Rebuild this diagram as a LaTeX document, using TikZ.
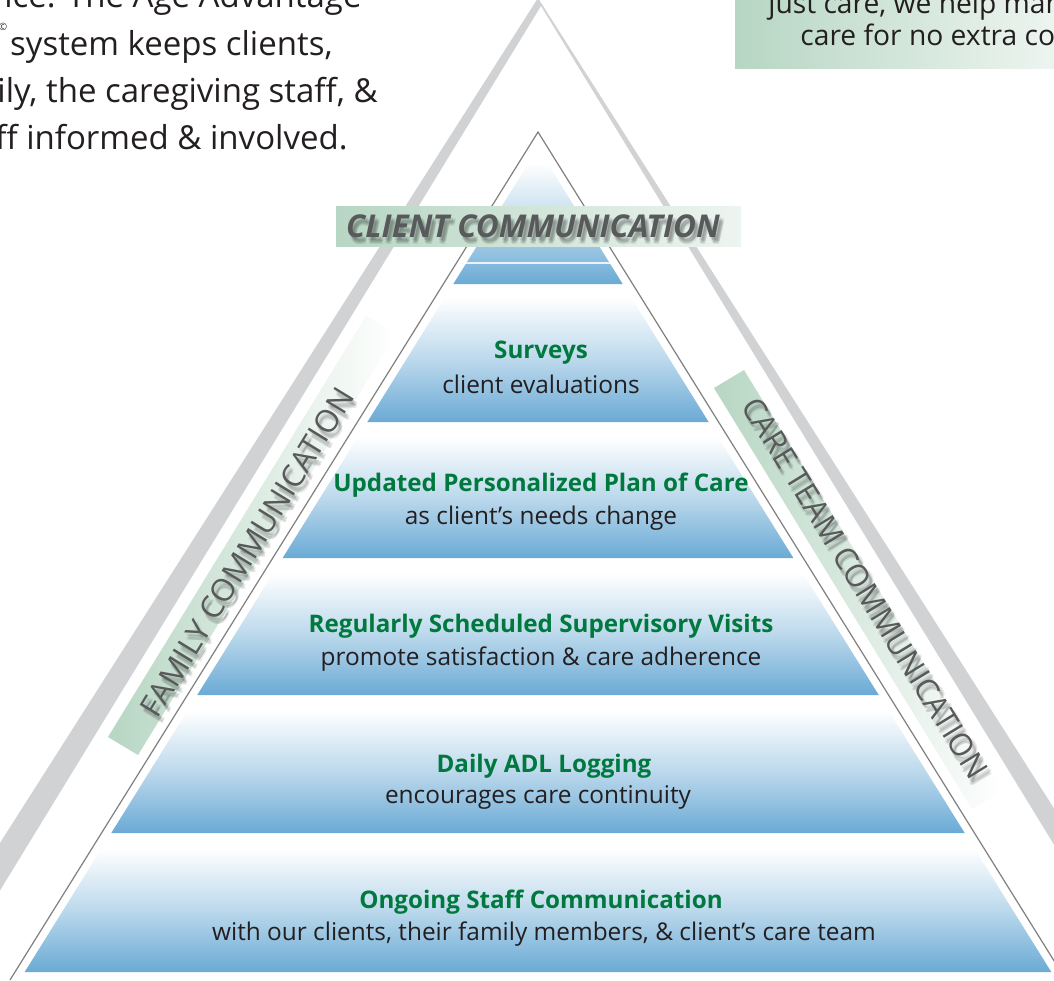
\documentclass[tikz,border=0pt]{standalone}
\usepackage{fontspec}
\setmainfont{Open Sans}
\usetikzlibrary{calc}
\definecolor{pyrblue}{RGB}{106,170,213}
\definecolor{bandgreen}{RGB}{183,214,195}
\definecolor{titlegreen}{RGB}{0,120,62}
\definecolor{labelgray}{RGB}{88,89,91}
\definecolor{inkblack}{RGB}{35,31,32}
\definecolor{railgray}{RGB}{209,210,212}
% blurred drop shadow under the grey captions
\newcommand{\shadowtext}[5]{%
  \foreach \dx/\dy in {2/3,3.5/5,2.5/6.5,4.5/4,4/7}
    \node[text=black, opacity=0.08, rotate=#3, font=#4] at ($(#2)+(\dx,\dy)$) {#5};
  \node[text=labelgray, rotate=#3, font=#4] (#1) at (#2) {#5};
}
\begin{document}
\begin{tikzpicture}[x=0.5pt, y=-0.5pt,
    bandfill/.style={top color=white, bottom color=pyrblue, middle color=pyrblue!45},
    title/.style={text=titlegreen, font=\fontsize{12.1}{14}\selectfont\bfseries, anchor=base, inner sep=0},
    note/.style={text=inkblack, font=\fontsize{12.2}{14}\selectfont, anchor=base, inner sep=0},
    intro/.style={text=inkblack, font=\fontsize{16.5}{19}\selectfont, anchor=base east, inner sep=0},
    aside/.style={text=inkblack, font=\fontsize{14.1}{16}\selectfont, anchor=base west, inner sep=0}]
    \useasboundingbox (0,0) rectangle (1054,980);
    \clip (0,0) rectangle (1054,980);
    \fill[white] (0,0) rectangle (1054,980);
    % outer grey rail
    \fill[railgray] (-100,1000) -- (538,-2) -- (1176,1000) -- (1149,1000) -- (541,6) -- (-67,1000) -- cycle;
    % side bands
    \shade[left color=bandgreen, right color=white] (108,737) -- (138,755) -- (396,334) -- (366,316) -- cycle;
    \shade[left color=bandgreen, right color=white] (714,388) -- (744,370) -- (1002,791) -- (972,809) -- cycle;
    % thin outline
    \draw[gray, line width=0.6] (10,980) -- (538,132) -- (1066,980);
    % pyramid levels
    \foreach \t/\b in {163/284, 297/422, 437/558, 573/695, 710/833, 848/972}
      \shade[bandfill] ({548-0.623*(\t-132)},\t) -- ({528+0.623*(\t-132)},\t)
        -- ({528+0.623*(\b-132)},\b) -- ({548-0.623*(\b-132)},\b) -- cycle;
    \draw[white!85!pyrblue, line width=0.8] ({548-0.623*131},263) -- ({528+0.623*131},263);
    % top band
    \shade[left color=bandgreen, right color=bandgreen!25] (336,206) rectangle (741,246);
    \shadowtext{clientLbl}{533,226}{0}{\fontsize{15.7}{18}\selectfont\bfseries\itshape}{CLIENT COMMUNICATION}
    \shadowtext{familyLbl}{247,552}{58.5}{\fontsize{15.6}{18}\selectfont}{FAMILY COMMUNICATION}
    \shadowtext{teamLbl}{865,588}{-58.5}{\fontsize{15.6}{18}\selectfont}{CARE TEAM COMMUNICATION}
    % level texts
    \node[title] (survey) at (541,358) {Surveys};
    \node[note] (surveyNote) at (541,393) {client evaluations};
    \node[title] (plan) at (541,491) {Updated Personalized Plan of Care};
    \node[note] (planNote) at (541,524) {as client’s needs change};
    \node[title] (visits) at (541,632) {Regularly Scheduled Supervisory Visits};
    \node[note] (visitsNote) at (541,665) {promote satisfaction \& care adherence};
    \node[title] (logging) at (544,772) {Daily ADL Logging};
    \node[note] (loggingNote) at (538,803) {encourages care continuity};
    \node[title] (staff) at (541,908) {Ongoing Staff Communication};
    \node[note] (staffNote) at (544,940) {with our clients, their family members, \& client’s care team};
    % cut-off copy around the diagram
    \node[intro] (introA) at (362,7) {ice. The Age Advantage};
    \node[intro] (introB) at (333,55) {system keeps clients,};
    \node[intro] (introC) at (378,102) {ily, the caregiving staff, \&};
    \node[intro] (introD) at (348,149) {ff informed \& involved.};
    \node[text=inkblack, font=\fontsize{5}{6}\selectfont, inner sep=0] (copyMark) at (3,27) {©};
    \shade[left color=bandgreen, right color=bandgreen!25] (735,-2) rectangle (1056,68);
    \node[aside] (asideA) at (768,13) {just care, we help man};
    \node[aside] (asideB) at (800,45) {care for no extra co};
\end{tikzpicture}
\end{document}
